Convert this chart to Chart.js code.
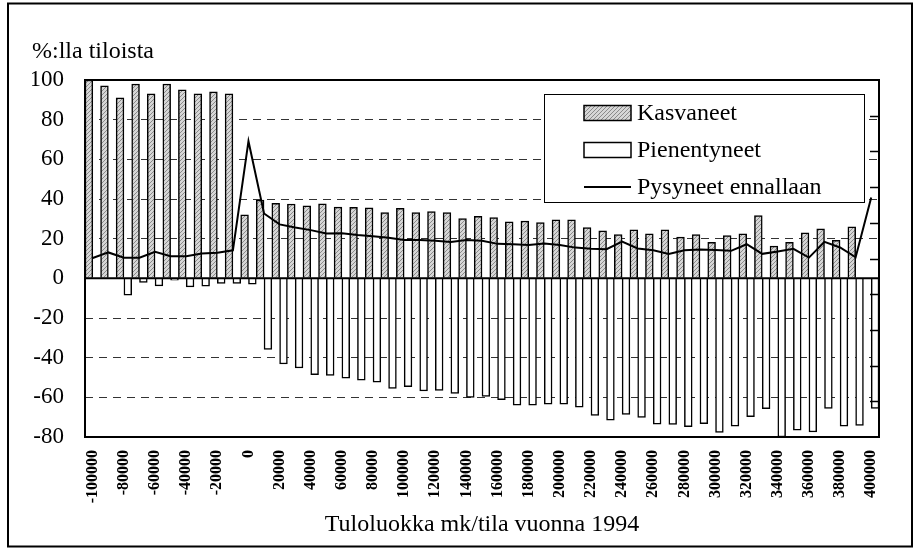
<!DOCTYPE html>
<html>
<head>
<meta charset="utf-8">
<title>Tuloluokka mk/tila vuonna 1994</title>
<script src="https://cdn.jsdelivr.net/npm/chart.js"></script>
<style>
  html, body { margin: 0; padding: 0; background: #fff; }
</style>
</head>
<body>
<canvas id="chart" width="916" height="550"></canvas>
<script>
// Tuloluokat (mk/tila vuonna 1994)
const categories = [
  -100000, -90000, -80000, -70000, -60000, -50000, -40000, -30000, -20000, -10000,
  0, 10000, 20000, 30000, 40000, 50000, 60000, 70000, 80000, 90000,
  100000, 110000, 120000, 130000, 140000, 150000, 160000, 170000, 180000, 190000,
  200000, 210000, 220000, 230000, 240000, 250000, 260000, 270000, 280000, 290000,
  300000, 310000, 320000, 330000, 340000, 350000, 360000, 370000, 380000, 390000,
  400000
];

// %:lla tiloista
const kasvaneet = [
  100, 97, 91, 98, 93, 98, 95, 93, 94, 93,
  32, 39.5, 37.8, 37.5, 36.6, 37.6, 35.9, 35.8, 35.6, 33.1,
  35.3, 33.2, 33.7, 33.1, 30.1, 31.2, 30.6, 28.5, 28.9, 28.1,
  29.5, 29.5, 25.6, 23.9, 22.1, 24.5, 22.5, 24.5, 20.8, 22,
  18.1, 21.5, 22.5, 31.7, 16.2, 18.1, 22.9, 24.9, 19.2, 26,
  null
];

const pienentyneet = [
  null, null, -8.5, -2.1, -3.8, -0.9, -4.3, -4, -2.6, -2.6,
  -2.9, -35.9, -43.2, -45.2, -48.6, -48.9, -50.4, -51.3, -52.3, -55.5,
  -54.6, -56.8, -56.5, -58, -60, -59.6, -61.2, -63.9, -64, -63.4,
  -63.5, -64.9, -69.1, -71.5, -68.6, -70.1, -73.5, -73.7, -74.8, -73.3,
  -77.7, -74.5, -69.8, -65.7, -80, -76.5, -77.5, -65.6, -74.5, -74.2,
  -65.6
];

// on the secondary (hidden) axis, -100 ... 100
const pysyneet = [
  0.3, 3.4, 0.4, 0.4, 3.7, 1.3, 1.3, 2.8, 3.2, 4.6,
  65.7, 25.2, 19.1, 17.4, 15.9, 14, 14.2, 13.2, 12.5, 11.6,
  10.4, 10.3, 9.9, 9.3, 10.3, 9.9, 8.2, 8, 7.6, 8.4,
  7.6, 6.1, 5.4, 5.2, 9.5, 5.6, 4.6, 2.6, 4.6, 5,
  4.8, 4.3, 8, 2.6, 3.9, 5.4, 0.5, 9.3, 6.2, 0.7,
  34.2
];

const FONT = '"Liberation Serif", "Times New Roman", serif';
Chart.defaults.color = '#000';

// fine grey dot hatch like the original bar fill
function hatchPattern() {
  const c = document.createElement('canvas');
  c.width = 4; c.height = 4;
  const g = c.getContext('2d');
  g.fillStyle = '#d6d6d6';
  g.fillRect(0, 0, 4, 4);
  g.fillStyle = '#8a8a8a';
  g.fillRect(0, 0, 1, 1);
  g.fillRect(2, 2, 1, 1);
  g.fillRect(1, 3, 1, 1);
  g.fillRect(3, 1, 1, 1);
  return g.createPattern(c, 'repeat');
}

// plot frame, zero line and the unlabeled right axis ticks
const frame = {
  id: 'frame',
  afterDatasetsDraw(chart) {
    const { ctx, chartArea: a, scales } = chart;
    ctx.save();
    ctx.strokeStyle = '#000';
    ctx.lineWidth = 2;
    const y0 = scales.y.getPixelForValue(0);
    ctx.beginPath();
    ctx.moveTo(a.left, y0);
    ctx.lineTo(a.right, y0);
    ctx.stroke();
    ctx.strokeRect(a.left, a.top, a.right - a.left, a.bottom - a.top);

    const y2 = scales.y2;
    const step = 20;
    ctx.lineWidth = 1.5;
    for (let v = y2.min + step; v < y2.max; v += step) {
      const py = Math.round(y2.getPixelForValue(v)) + 0.5;
      ctx.beginPath();
      ctx.moveTo(a.right - 9, py);
      ctx.lineTo(a.right, py);
      ctx.stroke();
    }
    ctx.restore();
  },
  afterDraw(chart) {
    const ctx = chart.ctx;
    ctx.save();
    ctx.strokeStyle = '#000';
    ctx.lineWidth = 2;
    ctx.strokeRect(8, 3.5, 904, 543);
    ctx.restore();
  }
};

// legend box inside the plot, top right
const legendBox = {
  id: 'legendBox',
  afterDraw(chart) {
    const { ctx, chartArea } = chart;
    const w = 320, h = 108;
    const x = chartArea.right - 15 - w;
    const y = chartArea.top + 14;
    ctx.save();
    ctx.fillStyle = '#fff';
    ctx.fillRect(x, y, w, h);
    ctx.strokeStyle = '#000';
    ctx.lineWidth = 1;
    ctx.strokeRect(x + 0.5, y + 0.5, w, h);
    ctx.font = '24px ' + FONT;
    ctx.textBaseline = 'middle';
    chart.data.datasets.forEach((ds, i) => {
      const cy = y + 19 + i * 37;
      const sx = x + 40;
      if (ds.type === 'line') {
        ctx.strokeStyle = ds.borderColor;
        ctx.lineWidth = ds.borderWidth;
        ctx.beginPath();
        ctx.moveTo(sx, cy);
        ctx.lineTo(sx + 47, cy);
        ctx.stroke();
      } else {
        ctx.fillStyle = ds.backgroundColor;
        ctx.fillRect(sx, cy - 7.5, 47, 15);
        ctx.strokeStyle = '#000';
        ctx.lineWidth = 1.5;
        ctx.strokeRect(sx, cy - 7.5, 47, 15);
      }
      ctx.fillStyle = '#000';
      ctx.fillText(ds.label, sx + 53, cy + 1);
    });
    ctx.restore();
  }
};

const hidden = [0, 100, -80];

new Chart(document.getElementById('chart'), {
  type: 'bar',
  data: {
    labels: categories,
    datasets: [
      {
        label: 'Kasvaneet',
        data: kasvaneet,
        backgroundColor: hatchPattern(),
        borderColor: '#000',
        borderWidth: 1.5,
        categoryPercentage: 1,
        barPercentage: 1,
        order: 1
      },
      {
        label: 'Pienentyneet',
        data: pienentyneet,
        backgroundColor: '#fff',
        borderColor: '#000',
        borderWidth: 1.5,
        categoryPercentage: 1,
        barPercentage: 1,
        order: 1
      },
      {
        type: 'line',
        label: 'Pysyneet ennallaan',
        data: pysyneet,
        yAxisID: 'y2',
        borderColor: '#000',
        borderWidth: 2,
        pointRadius: 0,
        tension: 0,
        fill: false,
        order: 0
      }
    ]
  },
  options: {
    responsive: false,
    animation: false,
    devicePixelRatio: 1,
    layout: { padding: { left: 32, right: 37, top: 0, bottom: 0 } },
    plugins: {
      legend: { display: false },
      tooltip: { enabled: false },
      title: {
        display: true,
        text: '%:lla tiloista',
        align: 'start',
        color: '#000',
        font: { family: FONT, size: 24, weight: 'normal', lineHeight: 1.2 },
        padding: { top: 37, bottom: 14.2 }
      }
    },
    scales: {
      x: {
        grid: { display: false, drawTicks: false },
        border: { display: false },
        ticks: {
          autoSkip: false,
          minRotation: 90,
          maxRotation: 90,
          padding: 13,
          color: '#000',
          font: { family: FONT, size: 16, weight: 'bold' },
          callback: function (value, index) {
            return index % 2 === 0 ? String(this.getLabelForValue(value)) : '';
          }
        },
        title: {
          display: true,
          text: 'Tuloluokka mk/tila vuonna 1994',
          color: '#000',
          font: { family: FONT, size: 24, lineHeight: 1.2 },
          padding: { top: 0, bottom: 11 }
        },
        afterFit(scale) { scale.height = 113; }
      },
      y: {
        min: -80,
        max: 100,
        ticks: {
          stepSize: 20,
          padding: 21,
          color: '#000',
          font: { family: FONT, size: 23 }
        },
        grid: {
          drawTicks: false,
          lineWidth: 1,
          color: c => (c.tick && hidden.includes(c.tick.value)) ? 'rgba(0,0,0,0)' : '#333'
        },
        border: { display: false, dash: [8, 6] },
        afterFit(scale) { scale.width = 53; }
      },
      y2: {
        position: 'right',
        display: false,
        min: -100,
        max: 100,
        ticks: { stepSize: 20 }
      }
    }
  },
  plugins: [frame, legendBox]
});
</script>
</body>
</html>
